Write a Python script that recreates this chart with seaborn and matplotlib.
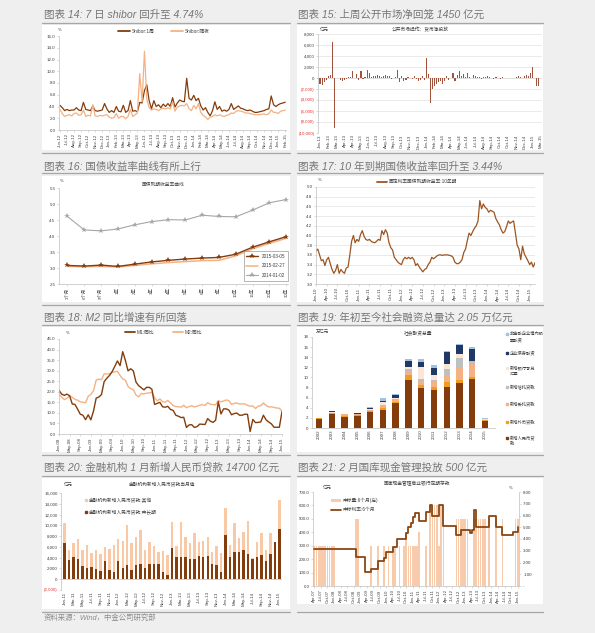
import numpy as np
import matplotlib
matplotlib.use("Agg")
import matplotlib.pyplot as plt
import seaborn as sns
from matplotlib.patches import Rectangle, Patch
from matplotlib.lines import Line2D

# ======================= DATA =======================
# 图表14: Shibor (about three readings per month, Jun-12 .. Feb-15)
shibor_ticks = ["Jun-12", "Jul-12", "Aug-12", "Sep-12", "Oct-12", "Nov-12", "Dec-12",
                "Jan-13", "Feb-13", "Mar-13", "Apr-13", "May-13", "Jun-13", "Jul-13", "Aug-13",
                "Sep-13", "Oct-13", "Nov-13", "Dec-13", "Jan-14", "Feb-14", "Mar-14", "Apr-14",
                "May-14", "Jun-14", "Jul-14", "Aug-14", "Sep-14", "Oct-14", "Nov-14", "Dec-14",
                "Jan-15", "Feb-15"]
shibor_1w = [4.2, 3.8, 3.3, 3.5, 3.3, 3.4, 3.4, 3.8, 3.4, 3.3, 4.7, 3.5, 3.4, 3.3, 4.1,
             3.3, 3.2, 3.3, 3.4, 4.5, 3.6, 3.0, 3.3, 3.0, 4.0, 3.2, 3.1, 4.2, 3.0, 3.3,
             5.0, 3.2, 3.3, 3.1, 4.7, 4.6, 6.7, 7.7, 5.0, 3.6, 5.0, 4.0, 4.3, 3.8, 4.4,
             4.0, 4.5, 4.0, 5.5, 3.9, 4.6, 5.1, 4.9, 4.8, 8.8, 5.4, 5.1, 5.9, 5.0, 5.4,
             4.1, 3.4, 3.8, 3.0, 2.4, 3.3, 4.8, 3.5, 4.0, 3.2, 3.4, 3.2, 3.5, 4.5, 3.5,
             3.8, 4.1, 3.7, 3.6, 3.4, 3.3, 3.4, 3.2, 3.0, 3.0, 3.1, 3.2, 3.3, 3.5, 3.6,
             5.8, 4.3, 4.0, 4.3, 4.5, 4.6, 4.74]
shibor_on = [3.5, 2.8, 2.3, 2.5, 2.6, 2.4, 2.8, 2.9, 2.5, 2.6, 3.4, 2.3, 2.5, 2.4, 4.3,
             2.4, 2.3, 2.5, 2.4, 2.5, 2.6, 2.2, 2.0, 2.1, 2.8, 2.0, 2.3, 2.3, 1.9, 2.3,
             3.5, 2.3, 2.6, 2.9, 9.6, 4.8, 13.4, 5.2, 3.8, 3.4, 3.6, 3.5, 3.3, 3.6, 3.7,
             3.6, 3.8, 3.6, 4.8, 3.2, 3.9, 4.1, 4.2, 4.1, 4.5, 3.6, 3.3, 4.2, 3.6, 4.5,
             3.0, 2.5, 2.2, 1.8, 2.2, 2.3, 2.6, 2.4, 2.6, 2.4, 2.3, 2.5, 2.6, 2.9, 2.8,
             3.2, 3.3, 3.2, 3.1, 2.9, 2.9, 2.8, 2.7, 2.6, 2.6, 2.6, 2.7, 2.7, 2.6, 2.8,
             3.4, 3.0, 3.0, 2.8, 3.2, 3.3, 3.4]

# 图表15: weekly open-market net injection (亿元)
omo_ticks = ["Jan-13", "Feb-13", "Mar-13", "Apr-13", "Apr-13", "May-13", "Jun-13", "Jul-13",
             "Aug-13", "Sep-13", "Oct-13", "Nov-13", "Dec-13", "Jan-14", "Feb-14", "Mar-14",
             "Apr-14", "May-14", "Jun-14", "Jul-14", "Aug-14", "Sep-14", "Oct-14", "Oct-14",
             "Nov-14", "Dec-14", "Jan-15", "Mar-15"]
omo_net = [-1100, -1300, -800, -400, 300, 600, 6600, -9000, 0, 50,
           -400, -500, -300, -200, 100, 100, 1200, 0, 800, -300,
           1200, -200, 100, 1500, 900, 200, 300, 400, 500, 300,
           200, 400, 600, 400, 300, -200, 0, 100, 1500, -800,
           300, -500, -300, 100, 0, -200, 400, -200, -500, -300,
           300, -300, 3700, 800, -4500, -2000, -1500, -1000, -700, -600,
           -1000, -500, 400, -300, 0, 900, -500, 600, 1200, 400,
           700, 200, 1000, 200, 0, 500, 400, 200, 100, -100,
           100, 200, 300, 100, 0, -100, 100, 0, -100, 100,
           0, 0, 0, 0, 0, 0, 100, 300, 200, 0,
           400, 500, 400, 900, 2000, 0, -1500, -1450]

# 图表16: government bond yield curve (%)
tenors = ["3个月", "6个月", "9个月", "1年", "2年", "3年", "4年", "5年", "6年", "7年",
          "10年", "15年", "20年", "30年"]
yc_20150305 = [3.08, 3.06, 3.09, 3.05, 3.12, 3.19, 3.24, 3.28, 3.31, 3.33, 3.43, 3.65, 3.82, 3.98]
yc_20150227 = [3.05, 3.04, 3.05, 3.03, 3.08, 3.13, 3.17, 3.20, 3.23, 3.24, 3.38, 3.60, 3.77, 3.93]
yc_20140102 = [4.61, 4.19, 4.16, 4.22, 4.35, 4.45, 4.51, 4.50, 4.65, 4.61, 4.60, 4.81, 5.04, 5.14]

# 图表17: 10y government bond yield (two readings per month, Jan-10 ..)
cgb_ticks = ["Jan-10", "Apr-10", "Jul-10", "Oct-10", "Jan-11", "Apr-11", "Jul-11", "Oct-11",
             "Jan-12", "Apr-12", "Jul-12", "Oct-12", "Jan-13", "Apr-13", "Jul-13", "Oct-13",
             "Jan-14", "Apr-14", "Jul-14", "Oct-14", "Jan-15"]
cgb10 = [3.68, 3.72, 3.60, 3.48, 3.50, 3.38, 3.50, 3.55, 3.42, 3.30,
         3.22, 3.28, 3.40, 3.22, 3.30, 3.25, 3.22, 3.33, 3.35, 3.60,
         3.88, 4.00, 3.85, 3.92, 3.88, 4.02, 4.10, 3.98, 3.92, 3.90,
         3.92, 3.88, 3.86, 3.85, 3.88, 3.92, 3.90, 4.10, 4.02, 4.12,
         4.05, 3.85, 3.75, 3.70, 3.55, 3.50, 3.45, 3.42, 3.40, 3.50,
         3.55, 3.52, 3.55, 3.52, 3.55, 3.50, 3.38, 3.42, 3.35, 3.30,
         3.25, 3.30, 3.32, 3.40, 3.45, 3.55, 3.52, 3.55, 3.58, 3.60,
         3.60, 3.59, 3.60, 3.60, 3.60, 3.59, 3.58, 3.55, 3.45, 3.42,
         3.42, 3.45, 3.50, 3.65, 3.72, 3.90, 4.05, 4.00, 4.08, 4.15,
         4.20, 4.30, 4.72, 4.55, 4.65, 4.58, 4.55, 4.48, 4.52, 4.50,
         4.48, 4.35, 4.28, 4.22, 4.12, 4.05, 4.08, 4.18, 4.30, 4.25,
         4.28, 4.30, 4.05, 3.80, 3.72, 3.50, 3.78, 3.62, 3.55, 3.48,
         3.40, 3.45, 3.35, 3.44]

# 图表18: M1 / M2 yoy (%), monthly Jan-08 .. Jan-15
m_ticks = ["Jan-08", "May-08", "Sep-08", "Jan-09", "May-09", "Sep-09", "Jan-10", "May-10",
           "Sep-10", "Jan-11", "May-11", "Sep-11", "Jan-12", "May-12", "Sep-12", "Jan-13",
           "May-13", "Sep-13", "Jan-14", "May-14", "Sep-14", "Jan-15"]
m1_yoy = [20.7, 18.9, 18.3, 18.9, 18.1, 14.2, 14.0, 11.8, 9.4, 8.9, 6.8, 9.1,
          6.7, 10.9, 17.0, 17.5, 18.7, 24.8, 26.4, 27.7, 29.5, 32.0, 34.6, 32.4,
          39.0, 34.9, 29.9, 30.9, 29.9, 24.6, 22.9, 21.9, 20.9, 22.1, 22.1, 21.2,
          14.0, 14.5, 15.0, 12.9, 12.7, 13.1, 11.6, 11.2, 8.9, 8.4, 7.8, 7.9,
          3.1, 4.3, 4.4, 3.1, 3.5, 4.7, 4.6, 4.5, 7.3, 6.1, 5.5, 6.5,
          15.3, 9.5, 11.9, 11.9, 11.3, 9.1, 9.7, 9.9, 8.9, 8.9, 9.4, 9.3,
          1.2, 6.9, 5.4, 5.5, 5.7, 8.9, 6.7, 5.7, 4.8, 3.2, 3.2, 3.2,
          10.6]
m2_yoy = [18.9, 17.5, 16.3, 16.9, 18.1, 17.4, 16.4, 16.0, 15.3, 15.0, 14.8, 17.8,
          18.8, 20.5, 25.5, 26.0, 25.7, 28.5, 28.4, 28.5, 29.3, 29.4, 29.7, 27.7,
          26.1, 25.5, 22.5, 21.5, 21.0, 18.5, 17.6, 19.2, 19.0, 19.3, 19.5, 19.7,
          17.2, 15.7, 16.6, 15.3, 15.1, 15.9, 14.7, 13.5, 13.0, 12.9, 12.7, 13.6,
          12.4, 13.0, 13.4, 12.8, 13.2, 13.6, 13.9, 13.5, 14.8, 14.1, 13.9, 13.8,
          15.9, 15.2, 15.7, 16.1, 15.8, 14.0, 14.5, 14.7, 14.2, 14.3, 14.2, 13.6,
          13.2, 13.3, 12.1, 13.2, 13.4, 14.7, 13.5, 12.8, 12.9, 12.6, 12.3, 12.2,
          10.8]

# 图表19: total social financing (万亿元)
tsf_years = ["2002", "2003", "2004", "2005", "2006", "2007", "2008", "2009", "2010",
             "2011", "2012", "2013", "2014", "2015"]
tsf_rmb_loans = [1.85, 2.77, 2.27, 2.35, 3.15, 3.63, 4.90, 9.59, 7.95, 7.47, 8.20, 8.89, 9.78, 1.39]
tsf_fx_loans = [0.07, 0.23, 0.14, 0.14, 0.15, 0.39, 0.19, 0.93, 0.49, 0.57, 0.92, 0.58, 0.36, 0.10]
tsf_entrusted = [0.02, 0.06, 0.31, 0.20, 0.27, 0.34, 0.43, 0.68, 0.87, 1.30, 1.28, 2.55, 2.51, 0.15]
tsf_trust = [0.00, 0.00, 0.00, 0.00, 0.08, 0.17, 0.31, 0.44, 0.39, 0.20, 1.29, 1.84, 0.52, 0.03]
tsf_bankers_acc = [0.00, 0.20, 0.00, 0.00, 0.15, 0.67, 0.11, 0.46, 2.33, 1.03, 1.05, 0.78, 0.00, 0.10]
tsf_corp_bonds = [0.04, 0.05, 0.05, 0.20, 0.23, 0.23, 0.55, 1.24, 1.11, 1.37, 2.25, 1.81, 2.43, 0.10]
tsf_equity = [0.06, 0.06, 0.07, 0.03, 0.15, 0.43, 0.33, 0.34, 0.58, 0.44, 0.25, 0.22, 0.44, 0.05]
tsf_labels = ["新增人民币贷\n款", "新增外币贷款", "新增委托贷款", "新增信托贷款",
              "新增银行承兑\n汇票", "企业债券融资", "非金融企业境内股\n票融资"]

# 图表20: monthly new RMB loans (亿元), Jan-11 .. Jan-15
loan_ticks = ["Jan-11", "Mar-11", "May-11", "Jul-11", "Sep-11", "Nov-11", "Jan-12", "Mar-12",
              "May-12", "Jul-12", "Sep-12", "Nov-12", "Jan-13", "Mar-13", "May-13", "Jul-13",
              "Sep-13", "Nov-13", "Jan-14", "Mar-14", "May-14", "Jul-14", "Sep-14", "Nov-14",
              "Jan-15"]
loans_long = [6700, 3600, 4100, 3700, 2400, 2100, 2200, 1900, 1500, 3300, 1800, 1400,
              3400, 2000, 2600, 1800, 2600, 2800, 2000, 2800, 2800, 2800, 1400, 700,
              5800, 4100, 4200, 4100, 3700, 3800, 4300, 4200, 4300, 2900, 2600, 1400,
              8200, 4100, 5100, 5100, 5400, 4600, 3800, 4200, 4500, 3400, 4700, 7000,
              9400]
loans_other = [3700, 1800, 2700, 3700, 3100, 4200, 2700, 3600, 3200, 2600, 3800, 5000,
               4000, 5100, 7500, 5000, 5300, 6400, 3400, 4200, 3400, 2300, 3800, 3800,
               4900, 2100, 6400, 3800, 3000, 4800, 2700, 2900, 3600, 2200, 3600, 3400,
               5000, 2300, 5400, 2600, 3300, 6200, 100, 2800, 4100, 2100, 3800, 0,
               5300]

# 图表21: treasury cash management deposits (monthly, Apr-07 .. Jan-15)
tcm_ticks = ["Apr-07", "Jul-07", "Oct-07", "Jan-08", "Apr-08", "Jul-08", "Oct-08", "Jan-09",
             "Apr-09", "Jul-09", "Oct-09", "Jan-10", "Apr-10", "Jul-10", "Oct-10", "Jan-11",
             "Apr-11", "Jul-11", "Oct-11", "Jan-12", "Apr-12", "Jul-12", "Oct-12", "Jan-13",
             "Apr-13", "Jul-13", "Oct-13", "Jan-14", "Apr-14", "Jul-14", "Oct-14", "Jan-15"]
tcm_amount = [300, 300, 300, 300, 300, 300, 300, 300, 300, 300,
              0, 0, 0, 0, 0, 0, 0, 0, 0, 500,
              500, 0, 0, 0, 0, 0, 300, 0, 0, 300,
              0, 0, 300, 0, 300, 0, 300, 300, 0, 300,
              0, 300, 400, 300, 300, 300, 300, 300, 400, 0,
              0, 300, 0, 600, 600, 600, 600, 300, 600, 500,
              0, 0, 0, 0, 0, 500, 500, 500, 500, 500,
              500, 0, 0, 500, 500, 500, 500, 500, 500, 0,
              500, 0, 0, 500, 0, 0, 500, 0, 0, 0,
              0, 0, 500, 500]
tcm_rate = [3.15, 3.15, 3.15, 3.15, 3.15, 3.15, 3.15, 3.15, 3.15, 3.15,
            3.15, 3.15, 3.15, 3.15, 3.15, 3.15, 3.15, 3.15, 3.15, 2.5,
            2.5, 2.5, 2.5, 1.2, 1.2, 1.2, 1.45, 1.45, 1.45, 2.1,
            2.1, 2.1, 2.4, 2.9, 2.9, 2.9, 3.3, 3.3, 4.0, 4.0,
            4.0, 4.0, 4.5, 5.0, 5.4, 5.85, 6.25, 6.25, 5.5, 5.5,
            5.5, 6.3, 6.3, 6.9, 6.0, 6.0, 6.0, 6.9, 6.9, 5.1,
            5.1, 5.1, 5.1, 5.1, 5.1, 4.3, 4.3, 4.8, 4.8, 4.8,
            4.8, 4.5, 4.8, 6.5, 5.0, 5.0, 5.0, 5.0, 5.0, 5.0,
            6.0, 6.0, 6.0, 5.0, 5.0, 5.0, 4.3, 4.3, 4.3, 4.3,
            4.3, 4.6, 4.6, 5.0]

titles = ["图表 14: 7 日 shibor 回升至 4.74%",
          "图表 15: 上周公开市场净回笼 1450 亿元",
          "图表 16: 国债收益率曲线有所上行",
          "图表 17: 10 年到期国债收益率回升至 3.44%",
          "图表 18: M2 同比增速有所回落",
          "图表 19: 年初至今社会融资总量达 2.05 万亿元",
          "图表 20: 金融机构 1 月新增人民币贷款 14700 亿元",
          "图表 21: 2 月国库现金管理投放 500 亿元"]

# ======================= STYLE =======================
sns.set_theme(style="white")
plt.rcParams["font.family"] = ["Liberation Sans", "Noto Sans CJK SC", "DejaVu Sans"]
plt.rcParams["axes.unicode_minus"] = False

W, H = 595, 633
fig = plt.figure(figsize=(W / 100, H / 100), dpi=100, facecolor="#EFEFEF")

DARK = "#843C0C"
LIGHT = "#F4B183"
GRAY = "#A6A6A6"
TICK = "#404040"
SPINE = "#BFBFBF"
RED = "#E8312F"
FS = 3.2
FSL = 3.4
BAR = dict(saturation=1, errorbar=None, linewidth=0, edgecolor="none")


def fx(x):
    return x / W


def fy(y):
    return 1 - y / H


def add_ax(l, r, t, b):
    ax = fig.add_axes([fx(l), fy(b), (r - l) / W, (b - t) / H])
    ax.set_facecolor("none")
    return ax


def style_axes(ax, grid=False):
    ax.set_facecolor("none")
    ax.set_xlabel("")
    ax.set_ylabel("")
    for s in ("top", "right"):
        ax.spines[s].set_visible(False)
    for s in ("left", "bottom"):
        ax.spines[s].set_color(SPINE)
        ax.spines[s].set_linewidth(0.5)
    ax.tick_params(axis="both", which="major", labelsize=FS, labelcolor=TICK, color=SPINE,
                   length=1.5, width=0.4, pad=1.0, left=True, bottom=True)
    if grid:
        ax.yaxis.grid(True, color="#E2E2E2", linewidth=0.5)
        ax.xaxis.grid(False)
        ax.set_axisbelow(True)
    else:
        ax.grid(False)


def xlabels(ax, pos, labels):
    ax.set_xticks(pos)
    ax.set_xticklabels(labels, rotation=90, fontsize=FS, color=TICK)


def ylabels(ax, vals, labels, neg_red=False):
    ax.set_yticks(vals)
    ax.set_yticklabels(labels, fontsize=FS, color=TICK)
    if neg_red:
        for t, v in zip(ax.get_yticklabels(), vals):
            if v < 0:
                t.set_color(RED)


def note(x, y, s, ha="left", fs=FSL, color=TICK):
    fig.text(fx(x), fy(y), s, fontsize=fs, color=color, ha=ha, va="center")


def legend_at(ax, handles, labels, x0, y, **kw):
    opts = dict(loc="center left", bbox_to_anchor=(fx(x0), fy(y)),
                bbox_transform=fig.transFigure, frameon=False, fontsize=FSL,
                handlelength=2.1, handletextpad=0.35, borderpad=0, borderaxespad=0,
                labelcolor=TICK)
    opts.update(kw)
    return ax.legend(handles, labels, **opts)


# ---------- page decoration ----------
col_x = [(42, 290), (297, 543)]
row_boxes = [[(25, 150), (176, 302), (327, 452), (478, 609)],
             [(25, 150), (176, 302), (327, 452), (478, 604)]]
for ci, (l, r) in enumerate(col_x):
    for t, b in row_boxes[ci]:
        fig.add_artist(Rectangle((fx(l), fy(b)), (r - l) / W, (b - t) / H,
                                 transform=fig.transFigure, facecolor="white",
                                 edgecolor="none", zorder=-10))
    for y in (22.5, 153, 173.5, 304.5, 324.5, 454.5, 475.5, 611.5):
        fig.add_artist(Line2D([fx(l), fx(r)], [fy(y), fy(y)], transform=fig.transFigure,
                              color="#A6A6A6", lw=0.9))

title_pos = [(44, 14.5), (298, 14.5), (44, 166.5), (298, 166.5),
             (44, 317.5), (298, 317.5), (44, 468), (298, 468)]
for (tx, ty), s in zip(title_pos, titles):
    fig.text(fx(tx), fy(ty), s, fontsize=7.6, color="#767676", ha="left", va="center",
             style="italic")
fig.text(fx(44), fy(618), "资料来源：Wind，中金公司研究部", fontsize=5.3, color="#8C8C8C",
         ha="left", va="center", style="italic")

# ---------- 图表14 ----------
ax = add_ax(59, 286, 36, 130)
x14 = np.arange(len(shibor_1w))
sns.lineplot(x=x14, y=shibor_1w, ax=ax, color=DARK, linewidth=0.9)
sns.lineplot(x=x14, y=shibor_on, ax=ax, color=LIGHT, linewidth=0.9)
style_axes(ax)
ax.set_ylim(0, 16)
ylabels(ax, np.arange(0, 17, 2), [f"{v:.1f}" for v in np.arange(0, 17, 2)])
ax.set_xlim(-0.4, 96.3)
xlabels(ax, np.arange(0, 97, 3), shibor_ticks)
note(58, 30, "%", fs=3.2)
legend_at(ax, [Line2D([], [], color=DARK, lw=1.3), Line2D([], [], color=LIGHT, lw=1.3)],
          ["Shibor:1周", "Shibor:隔夜"], 118, 31, ncol=2, handlelength=2.5, columnspacing=3.6)

# ---------- 图表15 ----------
ax = add_ax(318, 542, 34, 133)
x15 = np.arange(len(omo_net))
sns.barplot(x=x15, y=omo_net, ax=ax, color="#A0523C", width=0.55, **BAR)
style_axes(ax, grid=True)
ax.spines["bottom"].set_visible(False)
ax.axhline(0, color=SPINE, lw=0.5, zorder=0.5)
ax.set_ylim(-10000, 8000)
yt15 = np.arange(-10000, 8001, 2000)
ylabels(ax, yt15, [f"({-v:,})" if v < 0 else f"{v:,}" for v in yt15], neg_red=True)
ax.set_xlim(-1, 108.5)
xlabels(ax, np.arange(0, 109, 4), omo_ticks)
ax.tick_params(axis="x", length=0)
note(320, 30, "亿元", fs=3.2)
note(420, 30, "公开市场操作：货币净投放", ha="center", fs=3.4)

# ---------- 图表16 ----------
ax = add_ax(59, 288, 188, 284)
x16 = np.arange(len(tenors))
sns.lineplot(x=x16, y=yc_20140102, ax=ax, color=GRAY, linewidth=0.8, marker="*",
             markersize=3.8, markeredgewidth=0, label="2014-01-02")
sns.lineplot(x=x16, y=yc_20150227, ax=ax, color=LIGHT, linewidth=1.1, label="2015-02-27")
sns.lineplot(x=x16, y=yc_20150305, ax=ax, color=DARK, linewidth=1.0, marker="*",
             markersize=3.8, markeredgewidth=0, label="2015-03-05")
style_axes(ax)
ax.set_ylim(2.5, 5.5)
ylabels(ax, np.arange(2.5, 5.51, 0.5), [f"{v:.1f}" for v in np.arange(2.5, 5.51, 0.5)])
ax.set_xlim(-0.5, 13.1)
xlabels(ax, x16, tenors)
h, lab = ax.get_legend_handles_labels()
lg = ax.legend(h[::-1], lab[::-1], loc="center", bbox_to_anchor=(fx(266), fy(266)),
               bbox_transform=fig.transFigure, frameon=True, fancybox=False, fontsize=3.3,
               handlelength=2.6, labelspacing=1.0, borderpad=0.6, edgecolor="#7F7F7F",
               framealpha=1, labelcolor=TICK)
lg.get_frame().set_linewidth(0.4)
note(60, 181, "%", fs=3.2)
note(163, 184, "国债到期收益率曲线", ha="center", fs=3.4)

# ---------- 图表17 ----------
ax = add_ax(316, 535, 187, 284)
x17 = np.arange(len(cgb10))
sns.lineplot(x=x17, y=cgb10, ax=ax, color="#9C5520", linewidth=0.9)
style_axes(ax, grid=True)
ax.set_ylim(3.0, 5.0)
ylabels(ax, np.arange(3.0, 5.01, 0.2), [f"{v:.1f}" for v in np.arange(3.0, 5.01, 0.2)])
ax.set_xlim(0, 123)
xlabels(ax, np.arange(0, 121, 6), cgb_ticks)
note(318, 180, "%", fs=3.2)
legend_at(ax, [Line2D([], [], color="#9C5520", lw=1.3)], ["固定利率国债到期收益率:10年期"],
          377, 181.7)

# ---------- 图表18 ----------
ax = add_ax(59, 282, 339, 434)
x18 = np.arange(len(m1_yoy))
sns.lineplot(x=x18, y=m2_yoy, ax=ax, color=LIGHT, linewidth=1.0)
sns.lineplot(x=x18, y=m1_yoy, ax=ax, color=DARK, linewidth=1.0)
style_axes(ax)
ax.set_ylim(0, 45)
ylabels(ax, np.arange(0, 46, 5), [f"{v:.1f}" for v in np.arange(0, 46, 5)])
ax.set_xlim(0, 84)
xlabels(ax, np.arange(0, 85, 4), m_ticks)
note(66, 333, "%", fs=3.2)
legend_at(ax, [Line2D([], [], color=DARK, lw=1.3), Line2D([], [], color=LIGHT, lw=1.3)],
          ["M1:同比", "M2:同比"], 125, 332, ncol=2, columnspacing=4.0)

# ---------- 图表19 ----------
ax = add_ax(312, 495, 337, 428)
layers19 = [tsf_rmb_loans, tsf_fx_loans, tsf_entrusted, tsf_trust, tsf_bankers_acc,
            tsf_corp_bonds, tsf_equity]
colors19 = ["#843C0C", "#F39B1F", "#F4B183", "#BFBFBF", "#FBE5D6", "#1F3864", "#9DC3E6"]
cum19 = np.cumsum(np.array(layers19), axis=0)
for k in range(len(layers19) - 1, -1, -1):
    sns.barplot(x=tsf_years, y=cum19[k], ax=ax, color=colors19[k], width=0.5, **BAR)
style_axes(ax)
ax.set_ylim(0, 18)
ylabels(ax, np.arange(0, 19, 2), [str(v) for v in np.arange(0, 19, 2)])
ax.set_xlim(-0.55, 13.78)
xlabels(ax, np.arange(len(tsf_years)), tsf_years)
ax.tick_params(axis="x", length=0)
note(316, 332, "万亿元", fs=3.2)
note(418, 333, "社会融资总量", ha="center", fs=3.4)
leg_y = [438, 422, 404, 387, 368, 353, 334]
for k in range(len(layers19) - 1, -1, -1):
    fig.add_artist(Line2D([fx(506.5)], [fy(leg_y[k])], transform=fig.transFigure,
                          marker="s", markersize=1.8, color=colors19[k], ls="none"))
    fig.text(fx(510), fy(leg_y[k] - 2.6), tsf_labels[k], fontsize=3.1, color=TICK,
             ha="left", va="top", linespacing=1.55)

# ---------- 图表20 ----------
ax = add_ax(61, 282, 493, 590)
x20 = np.arange(len(loans_long))
loans_total = np.array(loans_long) + np.array(loans_other)
sns.barplot(x=x20, y=loans_total, ax=ax, color="#F8C9A4", width=0.55, **BAR)
sns.barplot(x=x20, y=loans_long, ax=ax, color=DARK, width=0.55, **BAR)
style_axes(ax)
ax.spines["bottom"].set_visible(False)
ax.axhline(0, color=SPINE, lw=0.5)
ax.set_ylim(-2000, 16000)
yt20 = np.arange(-2000, 16001, 2000)
ylabels(ax, yt20, [f"({-v:,})" if v < 0 else f"{v:,}" for v in yt20], neg_red=True)
ax.set_xlim(-0.8, 48.6)
xlabels(ax, np.arange(0, 49, 2), loan_ticks)
ax.tick_params(axis="x", length=0)
note(64, 484.5, "亿元", fs=3.2)
note(162, 484.5, "金融机构新增人民币贷款当月值", ha="center", fs=3.4)
legend_at(ax, [Line2D([], [], marker="s", ls="none", color="#F8C9A4", markersize=2.0),
               Line2D([], [], marker="s", ls="none", color=DARK, markersize=2.0)],
          ["金融机构新增人民币贷款:其他", "金融机构新增人民币贷款:中长期"], 84.5, 506.5,
          handlelength=0.6, handletextpad=0.4, labelspacing=1.5)

# ---------- 图表21 ----------
ax = add_ax(313, 519, 492, 586)
x21 = np.arange(len(tcm_amount))
sns.barplot(x=x21, y=tcm_amount, ax=ax, color="#F8CBAD", width=0.75, **BAR)
style_axes(ax)
ax.set_ylim(0, 700)
ylabels(ax, np.arange(0, 701, 100), [f"{v:.1f}" for v in np.arange(0, 701, 100)])
ax.set_xlim(-0.6, 93.6)
xlabels(ax, np.arange(0, 94, 3), tcm_ticks)
ax2 = ax.twinx()
sns.lineplot(x=x21, y=tcm_rate, ax=ax2, color="#8B4513", linewidth=1.3, drawstyle="steps-post")
ax2.set_facecolor("none")
ax2.set_ylabel("")
ax2.grid(False)
ax2.set_ylim(0, 8)
ax2.set_xlim(-0.6, 93.6)
for s in ("top", "left", "bottom"):
    ax2.spines[s].set_visible(False)
ax2.spines["right"].set_color(SPINE)
ax2.spines["right"].set_linewidth(0.5)
ax2.set_yticks(np.arange(0, 9, 1))
ax2.set_yticklabels(["-"] + [f"{v:.2f}" for v in np.arange(1, 9, 1)], fontsize=FS, color=TICK)
ax2.tick_params(axis="y", right=True, labelright=True, left=False, labelleft=False,
                labelsize=FS, labelcolor=TICK, color=SPINE, length=1.5, width=0.4, pad=1.5)
note(323, 488, "亿元", fs=3.2)
note(509, 488, "%", fs=3.2)
note(417, 484, "国库现金管理商业银行定期存款", ha="center", fs=3.4)
legend_at(ax2, [Patch(facecolor="#F8CBAD", edgecolor="none"), Line2D([], [], color="#8B4513", lw=1.3)],
          ["中标量:6个月(左)", "中标利率:6个月"], 331, 505, labelspacing=0.9)

fig.savefig("out.png", dpi=100, facecolor=fig.get_facecolor())
